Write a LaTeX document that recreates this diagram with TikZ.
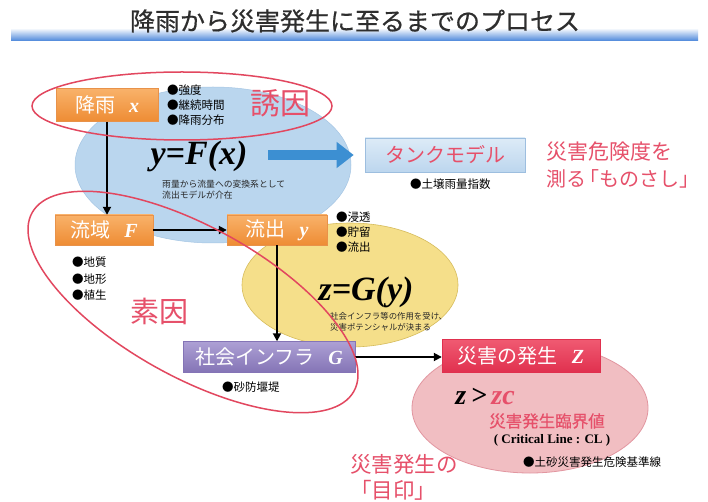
\documentclass[tikz,border=0pt]{standalone}
\usepackage{fontspec}
\setmainfont{Liberation Serif}
\newfontfamily\cjk{Noto Sans CJK JP}
\newfontfamily\cjkm[FakeBold=0.6]{Noto Sans CJK JP}
\usetikzlibrary{arrows.meta,shapes.geometric}
\definecolor{barblue}{HTML}{4A86DA}
\definecolor{titlegray}{HTML}{2E2E2E}
\definecolor{orangeT}{HTML}{F9B26A}
\definecolor{orangeB}{HTML}{EE8C34}
\definecolor{orangeD}{HTML}{E8924A}
\definecolor{purpleT}{HTML}{ADA0D4}
\definecolor{purpleB}{HTML}{8474B6}
\definecolor{redT}{HTML}{F05A72}
\definecolor{redB}{HTML}{E0304E}
\definecolor{tankT}{HTML}{DDEBF7}
\definecolor{tankB}{HTML}{BCD6EE}
\definecolor{tankD}{HTML}{9DBEDF}
\definecolor{blueell}{HTML}{BAD6EE}
\definecolor{blueellD}{HTML}{A6C6E4}
\definecolor{yellowell}{HTML}{F5DF8A}
\definecolor{yellowellD}{HTML}{D6BC5C}
\definecolor{pinkell}{HTML}{F1BEC2}
\definecolor{pinkellD}{HTML}{E296A0}
\definecolor{redline}{HTML}{E2475F}
\definecolor{pinktext}{HTML}{E6506A}
\definecolor{arrowblue}{HTML}{3C8FD2}
\tikzset{
  box/.style={rectangle, inner sep=0pt, text=white,
    font=\fontsize{20}{20}\selectfont},
  orangebox/.style={box, top color=orangeT, bottom color=orangeB, draw=orangeD, line width=0.4pt},
  purplebox/.style={box, top color=purpleT, bottom color=purpleB, draw=purpleB, line width=0.4pt},
  redbox/.style={box, top color=redT, bottom color=redB, draw=redB, line width=0.4pt},
  tankbox/.style={rectangle, inner sep=0pt, top color=tankT, bottom color=tankB, draw=tankD, line width=0.6pt,
    text=pinktext, font=\cjk\fontsize{20}{20}\selectfont},
  bullets/.style={align=left, inner sep=0pt, anchor=west, text=black,
    font=\cjk\fontsize{11.5}{15}\selectfont},
  note/.style={align=left, inner sep=0pt, anchor=west, text=black!85,
    font=\cjk\fontsize{8.8}{11}\selectfont},
  pinklabel/.style={inner sep=0pt, text=pinktext},
  formula/.style={inner sep=0pt, text=black, font=\bfseries\itshape\fontsize{34}{34}\selectfont},
  conn/.style={-{Triangle[length=8pt,width=8pt]}, line width=1.8pt, black},
  redring/.style={ellipse, draw=redline, line width=1.5pt, inner sep=0pt},
  fillell/.style={ellipse, inner sep=0pt}
}
\newcommand{\var}[1]{{\bfseries\itshape #1}}
\begin{document}
\begin{tikzpicture}[x=1pt,y=-1pt]
\useasboundingbox (0,0) rectangle (708,502);
\fill[white] (0,0) rectangle (708,502);

% title
\shade[top color=white, bottom color=barblue] (11,28) rectangle (698,41);
\node[font=\cjkm\fontsize{25}{25}\selectfont, text=titlegray, inner sep=0pt] (title) at (355,21) {降雨から災害発生に至るまでのプロセス};

% background ellipses
\node[fillell, fill=blueell, draw=blueellD, line width=0.5pt, minimum width=276pt, minimum height=156pt] (ellF) at (213,165) {};
\node[fillell, fill=yellowell, draw=yellowellD, line width=0.6pt, minimum width=216pt, minimum height=124pt] (ellG) at (350,285) {};
\node[fillell, fill=pinkell, draw=pinkellD, line width=0.8pt, minimum width=236pt, minimum height=130pt] (ellZ) at (530,408) {};

% boxes
\node[orangebox, minimum width=102pt, minimum height=33pt] (kou) at (107,105) {{\cjk 降雨}\hspace{0.7em}\var{x}};
\node[orangebox, minimum width=98pt, minimum height=30pt] (ryuiki) at (104,230) {{\cjk 流域}\hspace{0.7em}\var{F}};
\node[orangebox, minimum width=100pt, minimum height=30pt] (ryushutsu) at (277,230) {{\cjk 流出}\hspace{0.7em}\var{y}};
\node[purplebox, minimum width=172pt, minimum height=31pt] (infra) at (269,357) {{\cjk 社会インフラ}\hspace{0.7em}\var{G}};
\node[redbox, minimum width=158pt, minimum height=33pt] (saigai) at (521,356) {{\cjk 災害の発生}\hspace{0.7em}\var{Z}};
\node[tankbox, minimum width=160pt, minimum height=34pt] (tank) at (445,155) {タンクモデル};

% bullet lists
\node[bullets] (b1) at (167,105) {●強度\\●継続時間\\●降雨分布};
\node[bullets] (b2) at (336,232) {●浸透\\●貯留\\●流出};
\node[bullets, font=\cjk\fontsize{11.5}{16.5}\selectfont] (b3) at (72,279) {●地質\\●地形\\●植生};
\node[bullets] (b4) at (222,387) {●砂防堰堤};
\node[bullets] (b5) at (410,184) {●土壌雨量指数};
\node[bullets] (b6) at (523,462) {●土砂災害発生危険基準線};

% formulas and notes
\node[formula] (yfx) at (199,156) {y=F(x)};
\node[note] (n1) at (162,190) {雨量から流量への変換系として\\流出モデルが介在};
\node[formula] (zgy) at (366,292) {z=G(y)};
\node[note, font=\cjk\fontsize{8.4}{11.5}\selectfont] (n2) at (330,322) {社会インフラ等の作用を受け、\\災害ポテンシャルが決まる};
\node[inner sep=0pt, font=\bfseries\itshape\fontsize{28}{28}\selectfont] (zzc) at (485,396) {z\,>\,{\color{pinktext}zc}};
\node[pinklabel, font=\cjkm\fontsize{16.5}{16.5}\selectfont] (rinkai) at (547,421) {災害発生臨界値};
\node[inner sep=0pt, font=\bfseries\fontsize{13}{13}\selectfont] (cl) at (552,440) {( Critical Line : CL )};

% pink labels
\node[pinklabel, font=\cjk\fontsize{30}{30}\selectfont] (yuinlbl) at (280,103) {誘因};
\node[pinklabel, font=\cjk\fontsize{29}{29}\selectfont] (soinlbl) at (159,311) {素因};
\node[pinklabel, anchor=west, align=left, font=\cjk\fontsize{20}{27}\selectfont] (monosashi) at (546,165) {{\fontsize{21}{27}\selectfont 災害危険度を}\\測る\hspace{-0.35em}「ものさし」};
\node[pinklabel, anchor=west, align=left, font=\cjk\fontsize{21.5}{26}\selectfont] (mejirushi) at (350,477) {災害発生の\\「目印」};

% connectors
\draw[conn] (kou.south) -- (kou.south |- ryuiki.north);
\draw[conn] (ryuiki.east) -- (ryushutsu.west);
\draw[conn] (ryushutsu.south) -- (ryushutsu.south |- infra.north);
\draw[conn] (infra.east) -- (infra.east -| saigai.west);
\coordinate (bstart) at (268,155);
\draw[arrowblue, line width=10pt, -{Triangle[length=17pt,width=25pt]}, shorten >=11pt] (bstart) -- (bstart -| tank.west);

% red rings
\node[redring, minimum width=300pt, minimum height=68pt] (yuin) at (182,106) {};
\node[redring, minimum width=368pt, minimum height=150pt, rotate=-29] (soin) at (193,302) {};
\end{tikzpicture}
\end{document}
